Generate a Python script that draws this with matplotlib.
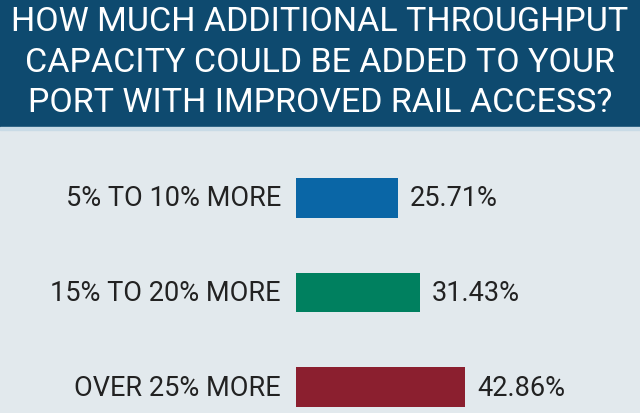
import matplotlib.pyplot as plt
from matplotlib.patches import Rectangle

categories = ["5% TO 10% MORE", "15% TO 20% MORE", "OVER 25% MORE"]
values = [25.71, 31.43, 42.86]
colors = ["#0a66a6", "#00805f", "#8b1f2f"]
title_lines = ["HOW MUCH ADDITIONAL THROUGHPUT",
               "CAPACITY COULD BE ADDED TO YOUR",
               "PORT WITH IMPROVED RAIL ACCESS?"]

plt.rcParams["font.family"] = ["Roboto", "DejaVu Sans"]

W, H = 640, 414
fig = plt.figure(figsize=(6.4, 4.14), dpi=100)
fig.patch.set_facecolor("#e2e9ed")


def fit(txt, width_px):
    # shrink/grow font so the text spans the wanted width (no condensed font here)
    r = fig.canvas.get_renderer()
    w = txt.get_window_extent(r).width
    txt.set_fontsize(txt.get_fontsize() * width_px / w)


# header band
fig.patches.append(Rectangle((0, 1 - 128 / H), 1, 128 / H, transform=fig.transFigure,
                             color="#0e4a6f", zorder=0))
fig.patches.append(Rectangle((0, 1 - 131 / H), 1, 3 / H, transform=fig.transFigure,
                             color="#c9dbe6", zorder=0))
heads = []
for i, line in enumerate(title_lines):
    heads.append(fig.text(0.5, 1 - (22 + i * 40.5) / H, line, color="white", fontsize=27,
                          ha="center", va="center"))
fit(heads[0], 618)
for t in heads[1:]:
    t.set_fontsize(heads[0].get_fontsize())

# bars
ax = fig.add_axes([296 / W, 0, 1 - 296 / W, 1 - 131 / H])
ax.set_facecolor("none")
pos = list(range(len(values)))
ax.barh(pos, values, height=0.42, color=colors)
ax.set_xlim(0, (W - 296) / 3.95)
ax.set_ylim(2.274, -0.716)
ax.axis("off")

cat_txt, val_txt = [], []
for p, cat, v in zip(pos, categories, values):
    cat_txt.append(ax.annotate(cat, (0, p), xytext=(-15, 0), textcoords="offset pixels",
                               ha="right", va="center", fontsize=20, color="#222222"))
    val_txt.append(ax.annotate(f"{v:.2f}%", (v, p), xytext=(12, 0), textcoords="offset pixels",
                               ha="left", va="center", fontsize=20, color="#222222"))
fit(cat_txt[0], 215)
for t in cat_txt[1:] + val_txt:
    t.set_fontsize(cat_txt[0].get_fontsize())

fig.savefig("out.png", dpi=100, facecolor=fig.get_facecolor())
